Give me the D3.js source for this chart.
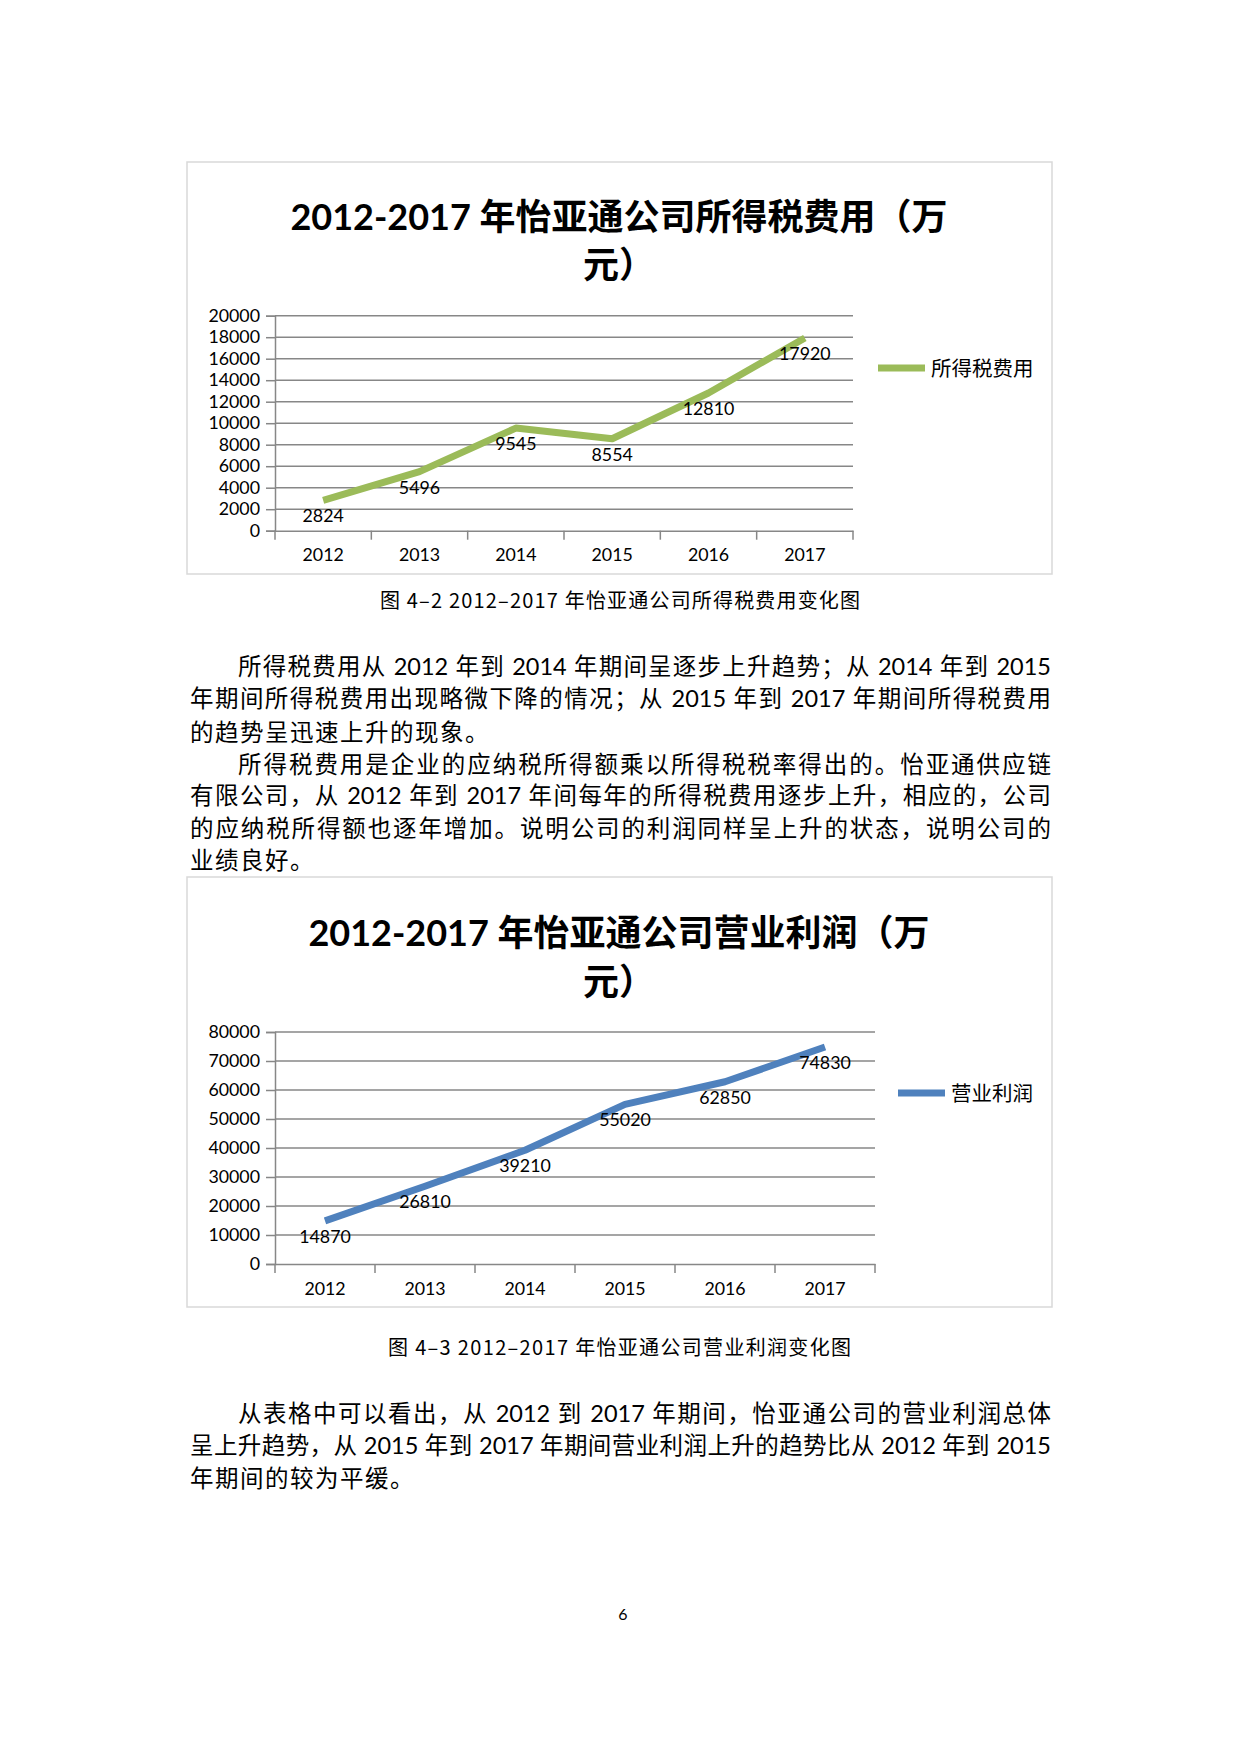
<!DOCTYPE html>
<html>
<head>
<meta charset="utf-8">
<script src="https://cdn.jsdelivr.net/npm/d3@7"></script>
<style>
  body { margin: 0; background: #fff; position: relative; width: 1240px; height: 1754px; }
  svg { display: block; position: absolute; left: 0; top: 0; }
  .line {
    position: absolute;
    font-family: Lato, "Noto Sans CJK SC", sans-serif;
    font-size: 23.5px;
    line-height: 32px;
    height: 32px;
    color: #000;
    white-space: nowrap;
    text-align: left;
  }
  .line.just { text-align: justify; text-align-last: justify; text-justify: inter-character; }
</style>
</head>
<body>
<svg id="page"></svg>
<script>
// chart data
let years = ['2012', '2013', '2014', '2015', '2016', '2017'];
let taxValues = [2824, 5496, 9545, 8554, 12810, 17920];
let profitValues = [14870, 26810, 39210, 55020, 62850, 74830];
let taxTicks = [0, 2000, 4000, 6000, 8000, 10000, 12000, 14000, 16000, 18000, 20000];
let profitTicks = [0, 10000, 20000, 30000, 40000, 50000, 60000, 70000, 80000];

let w = 1240;
let h = 1754;
let latin = 'Lato, "Noto Sans CJK SC", sans-serif';
let cjk = '"Noto Sans CJK SC", sans-serif';

let svg = d3.select('#page').attr('width', w).attr('height', h);
svg.append('rect').attr('width', w).attr('height', h).attr('fill', '#fff');

let drawChart = (cfg) => {
  let g = svg.append('g');

  // outer frame
  g.append('rect')
   .attr('x', 187).attr('y', cfg.boxTop)
   .attr('width', 865).attr('height', cfg.boxH)
   .attr('fill', '#fff')
   .attr('stroke', '#d9d9d9')
   .attr('stroke-width', 1.5);

  // title, two lines
  cfg.title.forEach((t, i) => {
    g.append('text')
     .attr('x', 619)
     .attr('y', cfg.titleY[i])
     .attr('text-anchor', 'middle')
     .style('font-family', latin)
     .style('font-weight', 'bold')
     .style('font-size', '36px')
     .text(t);
  });

  let xSc = d3.scaleBand().domain(years).range([275, cfg.right]);
  let ySc = d3.scaleLinear().domain([0, d3.max(cfg.ticks)]).range([cfg.bottom, cfg.top]);

  // gridlines
  g.append('g')
   .selectAll('line')
   .data(cfg.ticks.filter(d => d > 0))
   .enter()
   .append('line')
   .attr('x1', 275).attr('x2', cfg.right)
   .attr('y1', d => ySc(d)).attr('y2', d => ySc(d))
   .attr('stroke', '#878787')
   .attr('stroke-width', 1.5);

  // y axis
  let yAxis = d3.axisLeft(ySc).tickValues(cfg.ticks).tickSize(9).tickPadding(6).tickFormat(d3.format('d'));
  let ya = g.append('g').attr('transform', 'translate(275,0)').call(yAxis);
  ya.selectAll('path, line').attr('stroke', '#878787').attr('stroke-width', 1.5);
  ya.selectAll('text').style('font-family', latin).style('font-size', '17.8px').attr('fill', '#000');

  // x axis: labels at band centres, ticks at band edges
  let xAxis = d3.axisBottom(xSc).tickSize(0).tickPadding(cfg.xLabelPad);
  let xa = g.append('g').attr('transform', 'translate(0,' + cfg.bottom + ')').call(xAxis);
  xa.select('.domain').attr('stroke', '#878787').attr('stroke-width', 1.5);
  xa.selectAll('text').style('font-family', latin).style('font-size', '17.8px').attr('fill', '#000');
  let edges = years.map(y => xSc(y)).concat([xSc(years[years.length - 1]) + xSc.bandwidth()]);
  xa.selectAll('.edge')
    .data(edges)
    .enter()
    .append('line')
    .attr('class', 'edge')
    .attr('x1', d => d).attr('x2', d => d)
    .attr('y1', 0).attr('y2', 9)
    .attr('stroke', '#878787')
    .attr('stroke-width', 1.5);

  // series line
  let line = d3.line()
               .x((d, i) => xSc(years[i]) + xSc.bandwidth() / 2)
               .y(d => ySc(d));
  g.append('path')
   .datum(cfg.values)
   .attr('d', line)
   .attr('fill', 'none')
   .attr('stroke', cfg.color)
   .attr('stroke-width', 7)
   .attr('stroke-linejoin', 'round');

  // data labels below points
  g.selectAll('.lbl')
   .data(cfg.values)
   .enter()
   .append('text')
   .attr('class', 'lbl')
   .attr('x', (d, i) => xSc(years[i]) + xSc.bandwidth() / 2)
   .attr('y', d => ySc(d) + 22)
   .attr('text-anchor', 'middle')
   .style('font-family', latin)
   .style('font-size', '17.8px')
   .attr('fill', '#000')
   .text(d => d);

  // legend
  g.append('line')
   .attr('x1', cfg.legX).attr('x2', cfg.legX + 47)
   .attr('y1', cfg.legY).attr('y2', cfg.legY)
   .attr('stroke', cfg.color)
   .attr('stroke-width', 7);
  g.append('text')
   .attr('x', cfg.legX + 53)
   .attr('y', cfg.legY + 7.5)
   .style('font-family', cjk)
   .style('font-size', '20.5px')
   .attr('fill', '#000')
   .text(cfg.name);
};

drawChart({
  boxTop: 162, boxH: 412,
  title: ['2012-2017 年怡亚通公司所得税费用（万', '元）'],
  titleY: [230, 278],
  ticks: taxTicks, values: taxValues,
  top: 315.7, bottom: 530.7, right: 853,
  xLabelPad: 18,
  color: '#9bbb59',
  legX: 878, legY: 368,
  name: '所得税费用'
});

drawChart({
  boxTop: 877, boxH: 430,
  title: ['2012-2017 年怡亚通公司营业利润（万', '元）'],
  titleY: [946, 995],
  ticks: profitTicks, values: profitValues,
  top: 1032, bottom: 1264, right: 875,
  xLabelPad: 18,
  color: '#4f81bd',
  legX: 898, legY: 1093,
  name: '营业利润'
});

// captions
let captions = [
  { text: '图 4–2 2012–2017 年怡亚通公司所得税费用变化图', x: 380, len: 480, y: 608 },
  { text: '图 4–3 2012–2017 年怡亚通公司营业利润变化图', x: 388, len: 463, y: 1355 }
];
svg.selectAll('.cap')
   .data(captions)
   .enter()
   .append('text')
   .attr('class', 'cap')
   .attr('x', d => d.x)
   .attr('y', d => d.y)
   .attr('textLength', d => d.len)
   .attr('lengthAdjust', 'spacing')
   .style('font-family', cjk)
   .style('font-size', '20px')
   .attr('fill', '#000')
   .text(d => d.text);

// body text, one block per printed line; full lines are justified to the margin
let bodyLines = [
  { t: '所得税费用从 2012 年到 2014 年期间呈逐步上升趋势；从 2014 年到 2015', y: 675, indent: true, just: true },
  { t: '年期间所得税费用出现略微下降的情况；从 2015 年到 2017 年期间所得税费用', y: 707, just: true },
  { t: '的趋势呈迅速上升的现象。', y: 741 },
  { t: '所得税费用是企业的应纳税所得额乘以所得税税率得出的。怡亚通供应链', y: 773, indent: true, just: true },
  { t: '有限公司，从 2012 年到 2017 年间每年的所得税费用逐步上升，相应的，公司', y: 804, just: true },
  { t: '的应纳税所得额也逐年增加。说明公司的利润同样呈上升的状态，说明公司的', y: 837, just: true },
  { t: '业绩良好。', y: 869 },
  { t: '从表格中可以看出，从 2012 到 2017 年期间，怡亚通公司的营业利润总体', y: 1422, indent: true, just: true },
  { t: '呈上升趋势，从 2015 年到 2017 年期间营业利润上升的趋势比从 2012 年到 2015', y: 1454, just: true },
  { t: '年期间的较为平缓。', y: 1487 }
];
let bodyLeft = 190, bodyRight = 1051, indentLeft = 238;
d3.select('body')
  .selectAll('div.line')
  .data(bodyLines)
  .enter()
  .append('div')
  .attr('class', d => d.just ? 'line just' : 'line')
  .style('left', d => (d.indent ? indentLeft : bodyLeft) + 'px')
  .style('width', d => (bodyRight - (d.indent ? indentLeft : bodyLeft)) + 'px')
  .style('top', d => (d.y - 25.1) + 'px')
  .style('letter-spacing', d => d.just ? '0px' : '1.5px')
  .text(d => d.t);

// page number
svg.append('text')
   .attr('x', 623).attr('y', 1620)
   .attr('text-anchor', 'middle')
   .style('font-family', latin)
   .style('font-size', '16px')
   .text('6');
</script>
</body>
</html>
